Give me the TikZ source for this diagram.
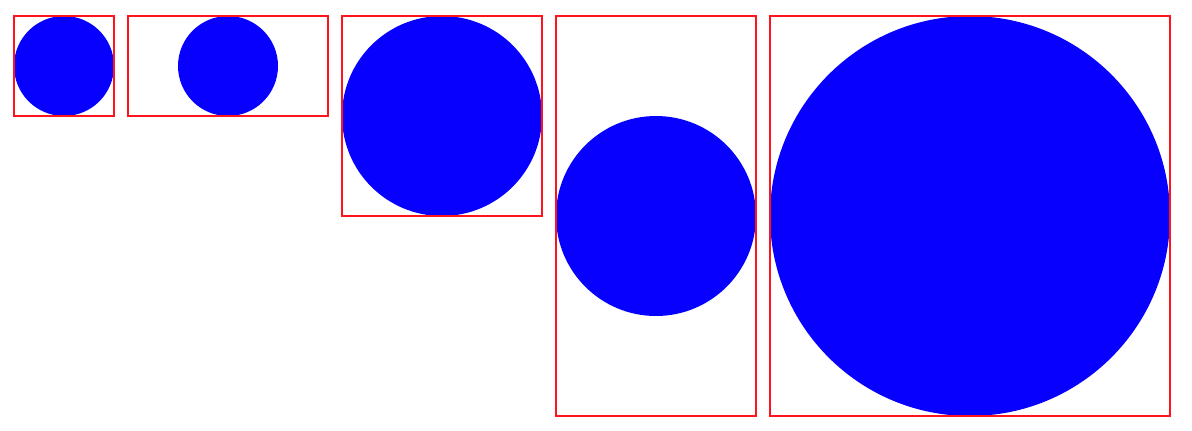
\documentclass[tikz,border=0pt]{standalone}
\usepackage{tikz}
\definecolor{boxred}{RGB}{255,20,30}
\definecolor{discblue}{RGB}{8,0,255}
\tikzset{
  frame/.style={draw=boxred, line width=1pt},
  disc/.style={fill=discblue}
}
\begin{document}
\begin{tikzpicture}[x=0.5pt, y=-0.5pt]
  % --- page size, in pixels of the reference ---
  \useasboundingbox (0,0) rectangle (1192,430);
  % small square: one disc of radius 50
  \fill[disc] (64,66) circle (50);
  \draw[frame] (14,16) rectangle (114,116);
  % wide box: disc in the middle
  \fill[disc] (228,66) circle (50);
  \draw[frame] (128,16) rectangle (328,116);
  % square box, twice as large
  \fill[disc] (442,116) circle (100);
  \draw[frame] (342,16) rectangle (542,216);
  % tall box: disc in the middle
  \fill[disc] (656,216) circle (100);
  \draw[frame] (556,16) rectangle (756,416);
  % largest square, disc of radius 200
  \fill[disc] (970,216) circle (200);
  \draw[frame] (770,16) rectangle (1170,416);
\end{tikzpicture}
\end{document}
